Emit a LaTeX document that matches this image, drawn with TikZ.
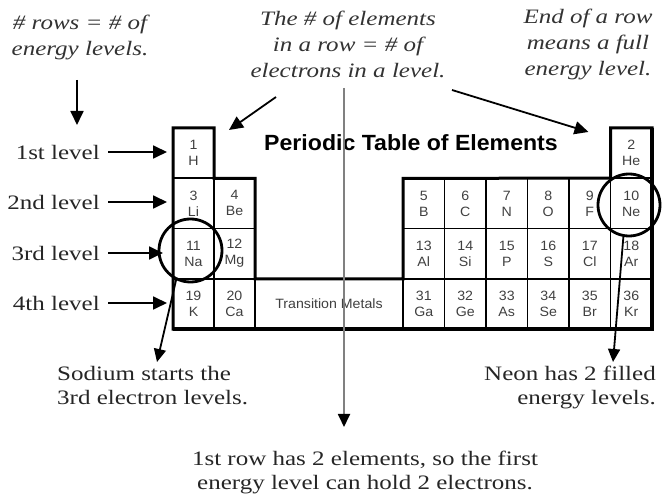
\documentclass[tikz,border=0pt]{standalone}
\usepackage{fontspec}
\usetikzlibrary{arrows.meta}
\newfontfamily\labelserif[FakeStretch=1.22]{Liberation Serif}
\newfontfamily\tablesans[FakeStretch=1.05]{Liberation Sans}

\begin{document}
\begin{tikzpicture}[
  x=1pt,y=-1pt,
  cell/.style={draw,line width=1.8pt,minimum width=41.5pt,minimum height=50.25pt,
               outer sep=0pt,inner sep=0pt,align=center,text=black!75,
               font=\tablesans\fontsize{13.5}{16}\selectfont},
  lcell/.style={cell,minimum width=41pt},
  rim/.style={line width=3pt,line join=miter},
  ring/.style={draw,circle,line width=2.8pt,minimum size=63pt,inner sep=0pt},
  lvl/.style={font=\labelserif\fontsize{20.5}{25}\selectfont,text=black!85,
              inner sep=0pt,anchor=east},
  note/.style={font=\labelserif\itshape\fontsize{20.5}{26}\selectfont,text=black!80,
               align=center,inner sep=0pt},
  say/.style={font=\labelserif\fontsize{20.5}{24}\selectfont,text=black!85,inner sep=0pt},
  ar/.style={-{Triangle[length=14pt,width=13pt]},line width=1.8pt}
]
\useasboundingbox (0,0) rectangle (665,497);

% table cells
\foreach \z/\s/\x/\y in {1/H/193.5/153.1, 3/Li/193.5/203.4, 4/Be/234.5/203.4,
    11/Na/193.5/253.6, 12/Mg/234.5/253.6, 19/K/193.5/303.9, 20/Ca/234.5/303.9}
  \node[lcell] (\s) at (\x,\y) {\z\\\s};
\foreach \z/\s/\c/\y in {2/He/5/153.1,
    5/B/0/203.4, 6/C/1/203.4, 7/N/2/203.4, 8/O/3/203.4, 9/F/4/203.4, 10/Ne/5/203.4,
    13/Al/0/253.6, 14/Si/1/253.6, 15/P/2/253.6, 16/S/3/253.6, 17/Cl/4/253.6, 18/Ar/5/253.6,
    31/Ga/0/303.9, 32/Ge/1/303.9, 33/As/2/303.9, 34/Se/3/303.9, 35/Br/4/303.9, 36/Kr/5/303.9}
  \node[cell] (\s) at ({423.75+41.5*\c},\y) {\z\\\s};
\node[cell,minimum width=148pt,font=\tablesans\fontsize{13.5}{15}\selectfont] (tm)
  at (329,303.9) {Transition Metals};

\draw[rim] (H.north west) -- (H.north east) -- (Be.north west) -- (Be.north east)
  -- (tm.north west) -- (tm.north east) -- (B.north west) -- (He.south west)
  -- (He.north west) -- (He.north east) -- (Kr.south east) -- (K.south west) -- cycle;
\draw[line width=4pt] (He.north east) -- (Kr.south east) -- (K.south west);

\node[font=\tablesans\bfseries\fontsize{22}{26}\selectfont] (title) at (411,143)
  {Periodic Table of Elements};

\node[ring] (naring) at (190.5,250.5) {};
\node[ring,minimum size=62pt] (nering) at (629,205) {};

% labels
\node[lvl] (lv1) at (100,152) {1st level};
\node[lvl] (lv2) at (100,202) {2nd level};
\node[lvl] (lv3) at (100,253) {3rd level};
\node[lvl] (lv4) at (100,303) {4th level};

\node[note] (rows) at (80,37) {\# rows = \# of\\energy levels.};
\node[note] (within) at (348,44) {The \# of elements\\in a row = \# of\\electrons in a level.};
\node[note] (rowend) at (588,44) {End of a row\\means a full\\energy level.};

\node[say,align=left,anchor=north west] (sodium) at (57,366)
  {Sodium starts the\\3rd electron levels.};
\node[say,align=right,anchor=north east] (neon) at (656,366)
  {Neon has 2 filled\\energy levels.};
\node[say,align=center] (firstrow) at (365,472)
  {1st row has 2 elements, so the first\\energy level can hold 2 electrons.};

% arrows
\coordinate (rowsfoot) at (77,80);
\coordinate (lvtop) at (77,125);
\coordinate (withinfoot) at (276,97);
\coordinate (rowendfoot) at (452,90);
\coordinate (midtop) at (344,88);
\coordinate (midtip) at (344,427);
\coordinate (natip) at (157,362);
\coordinate (netip) at (613,362);

\draw[ar] (rowsfoot) -- (lvtop);
\draw[ar] (withinfoot) -- ([xshift=15pt,yshift=-2pt]H.north east);
\draw[ar] (rowendfoot) -- ([xshift=-22pt,yshift=-4pt]He.north west);
\foreach \l/\c/\g in {lv1/H/6pt, lv2/Li/6pt, lv3/Na/10pt, lv4/K/6pt}
  \draw[ar,shorten <=8pt,shorten >=\g] (\l.east) -- (\l.east -| \c.west);
\draw[ar,draw=black!50,-{Triangle[length=13pt,width=12pt,color=black]}] (midtop) -- (midtip);
\draw[ar,-{Triangle[length=13pt,width=12pt]}] (naring.-116) -- (natip);
\draw[ar,-{Triangle[length=13pt,width=12pt]}] (nering.-100) -- (netip);
\end{tikzpicture}
\end{document}
